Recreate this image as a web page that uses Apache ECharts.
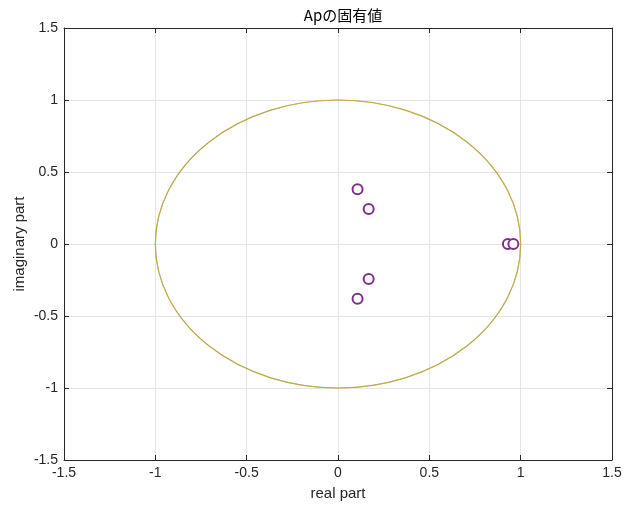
<!DOCTYPE html>
<html><head><meta charset="utf-8">
<script src="https://cdn.jsdelivr.net/npm/echarts@6/dist/echarts.min.js"></script>
<style>html,body{margin:0;padding:0;background:#fff}#c{width:643px;height:507px}</style>
</head><body><div id="c"></div>
<script>
const title = 'Apの固有値';
const xName = 'real part';
const yName = 'imaginary part';
const realParts = [0.107, 0.168, 0.168, 0.107, 0.930, 0.960];
const imagParts = [0.380, 0.243, -0.243, -0.380, 0.000, 0.000];
const circleCenter = [0, 0];
const circleRadius = [1];
const axisMin = -1.5, axisMax = 1.5, axisStep = 0.5;

const font = 'Liberation Sans, Arial, sans-serif';
const chart = echarts.init(document.getElementById('c'));
const axisCommon = {
  min: axisMin, max: axisMax, interval: axisStep,
  axisLine: {show: true, onZero: false, lineStyle: {color: '#262626', width: 1}},
  axisTick: {show: true, inside: true, length: 5, lineStyle: {color: '#262626'}},
  splitLine: {show: true, lineStyle: {color: '#e5e5e5', width: 1}},
  axisLabel: {color: '#262626', fontSize: 14, fontFamily: font,
    formatter: v => String(Math.round(v*10)/10)}
};
function ellipsePath(c, rx, ry) {
  return 'M' + (c[0]-rx) + ' ' + c[1] +
    ' A' + rx + ' ' + ry + ' 0 1 0 ' + (c[0]+rx) + ' ' + c[1] +
    ' A' + rx + ' ' + ry + ' 0 1 0 ' + (c[0]-rx) + ' ' + c[1];
}
chart.setOption({
  backgroundColor: '#fff',
  animation: false,
  title: {text: title, left: 338, top: 3, textAlign: 'center',
    textStyle: {fontSize: 15, fontWeight: 'normal', color: '#000', fontFamily: 'Noto Sans CJK JP, Liberation Sans, sans-serif'}},
  grid: {left: 64, right: 31, top: 28, bottom: 47, containLabel: false},
  xAxis: [
    Object.assign({}, axisCommon, {type: 'value', position: 'bottom', name: xName, nameLocation: 'middle', nameGap: 26,
      nameMoveOverlap: false,
      nameTextStyle: {fontSize: 15, color: '#262626', fontFamily: font},
      axisLabel: Object.assign({}, axisCommon.axisLabel, {margin: 6})}),
    Object.assign({}, axisCommon, {type: 'value', position: 'top', axisLabel: {show: false}, splitLine: {show: false}})
  ],
  yAxis: [
    Object.assign({}, axisCommon, {type: 'value', position: 'left', name: yName, nameLocation: 'middle', nameGap: 37,
      nameMoveOverlap: false,
      nameTextStyle: {fontSize: 15, color: '#262626', fontFamily: font},
      axisLabel: Object.assign({}, axisCommon.axisLabel, {margin: 6})}),
    Object.assign({}, axisCommon, {type: 'value', position: 'right', axisLabel: {show: false}, splitLine: {show: false}})
  ],
  series: [
    {
      type: 'custom', xAxisIndex: 0, yAxisIndex: 0, silent: true,
      data: [[circleCenter[0], circleCenter[1], circleRadius[0]]],
      renderItem: function (params, api) {
        const c = api.coord([api.value(0), api.value(1)]);
        const s = api.size([api.value(2), api.value(2)]);
        const d = ellipsePath(c, s[0], s[1]);
        return {type: 'group', children: [
          {type: 'path', shape: {pathData: d}, style: {fill: null, stroke: '#A8A866', lineWidth: 1.2}},
          {type: 'path', shape: {pathData: d}, style: {fill: null, stroke: '#D9AE2A', lineWidth: 0.6}}
        ]};
      },
      z: 2
    },
    {
      type: 'scatter', xAxisIndex: 0, yAxisIndex: 0,
      data: realParts.map((r, i) => [r, imagParts[i]]),
      symbol: 'emptyCircle', symbolSize: 10,
      itemStyle: {color: '#7E2F8E', borderWidth: 1.2, opacity: 1},
      z: 3
    }
  ]
});
</script></body></html>
